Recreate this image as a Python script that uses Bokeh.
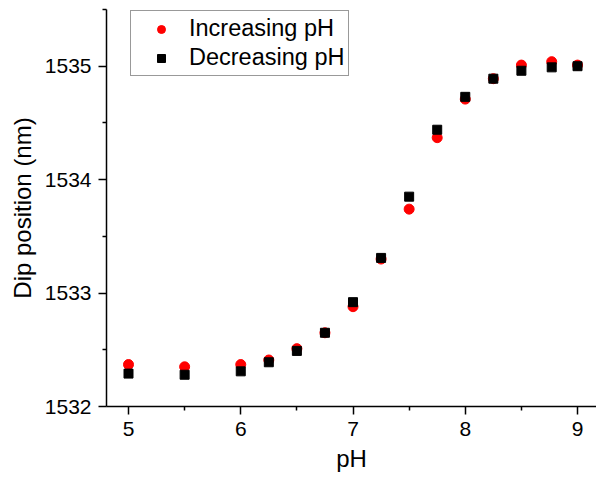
from bokeh.plotting import figure
from bokeh.models import Legend, LegendItem, Range1d, FixedTicker
from bokeh.embed import file_html
from bokeh.resources import INLINE

# Data
ph_increasing = [5, 5.5, 6, 6.25, 6.5, 6.75, 7, 7.25, 7.5, 7.75, 8, 8.25, 8.5, 8.77, 9]
dip_increasing = [1532.37, 1532.35, 1532.37, 1532.41, 1532.51, 1532.65, 1532.88, 1533.30,
                  1533.74, 1534.37, 1534.71, 1534.89, 1535.01, 1535.04, 1535.01]
ph_decreasing = [5, 5.5, 6, 6.25, 6.5, 6.75, 7, 7.25, 7.5, 7.75, 8, 8.25, 8.5, 8.77, 9]
dip_decreasing = [1532.29, 1532.28, 1532.31, 1532.39, 1532.49, 1532.65, 1532.92, 1533.31,
                  1533.85, 1534.44, 1534.73, 1534.89, 1534.96, 1534.99, 1535.00]
x_ticks = [5, 6, 7, 8, 9]
x_minor = [5.5, 6.5, 7.5, 8.5]
y_ticks = [1532, 1533, 1534, 1535]
y_minor = [1532.5, 1533.5, 1534.5, 1535.5]

FONT = "Liberation Sans"

p = figure(width=596, height=478, output_backend="svg", toolbar_location=None,
           x_range=Range1d(4.804, 9.169), y_range=Range1d(1532, 1535.5),
           min_border_left=106, min_border_right=0, min_border_top=9, min_border_bottom=72)
p.outline_line_color = None
p.grid.visible = False
p.background_fill_color = "white"
p.border_fill_color = "white"

r_inc = p.scatter(ph_increasing, dip_increasing, marker="circle", size=10,
                  fill_color="#ff0000", line_color="#ff0000")
r_dec = p.scatter(ph_decreasing, dip_decreasing, marker="square", size=9,
                  fill_color="black", line_color="black")

for ax, ticks, minor in ((p.xaxis[0], x_ticks, x_minor), (p.yaxis[0], y_ticks, y_minor)):
    ax.ticker = FixedTicker(ticks=ticks, minor_ticks=minor)
    ax.axis_line_width = 1.5
    ax.axis_line_color = "black"
    ax.major_tick_line_width = 1.5
    ax.minor_tick_line_width = 1.5
    ax.major_tick_line_color = "black"
    ax.minor_tick_line_color = "black"
    ax.major_tick_out = 8
    ax.major_tick_in = 0
    ax.minor_tick_out = 4
    ax.minor_tick_in = 0
    ax.major_label_text_font = FONT
    ax.major_label_text_font_size = "21px"
    ax.major_label_text_color = "black"
    ax.major_label_standoff = 7
    ax.axis_label_text_font = FONT
    ax.axis_label_text_font_size = "24px"
    ax.axis_label_text_font_style = "normal"
    ax.axis_label_text_color = "black"

p.xaxis.axis_label = "pH"
p.xaxis.axis_label_standoff = 6
p.yaxis.axis_label = "Dip position (nm)"
p.yaxis.axis_label_standoff = 6

legend = Legend(items=[LegendItem(label="Increasing pH", renderers=[r_inc]),
                       LegendItem(label="Decreasing pH", renderers=[r_dec])],
                location=(24, 330))
legend.label_text_font = FONT
legend.label_text_font_size = "23.5px"
legend.label_text_color = "black"
legend.border_line_color = "#333333"
legend.border_line_width = 1
legend.background_fill_alpha = 1
legend.padding = 4
legend.spacing = 2
legend.glyph_width = 52
legend.label_standoff = 2
legend.margin = 0
p.add_layout(legend, "center")

open("out.html", "w").write(file_html(p, INLINE))
